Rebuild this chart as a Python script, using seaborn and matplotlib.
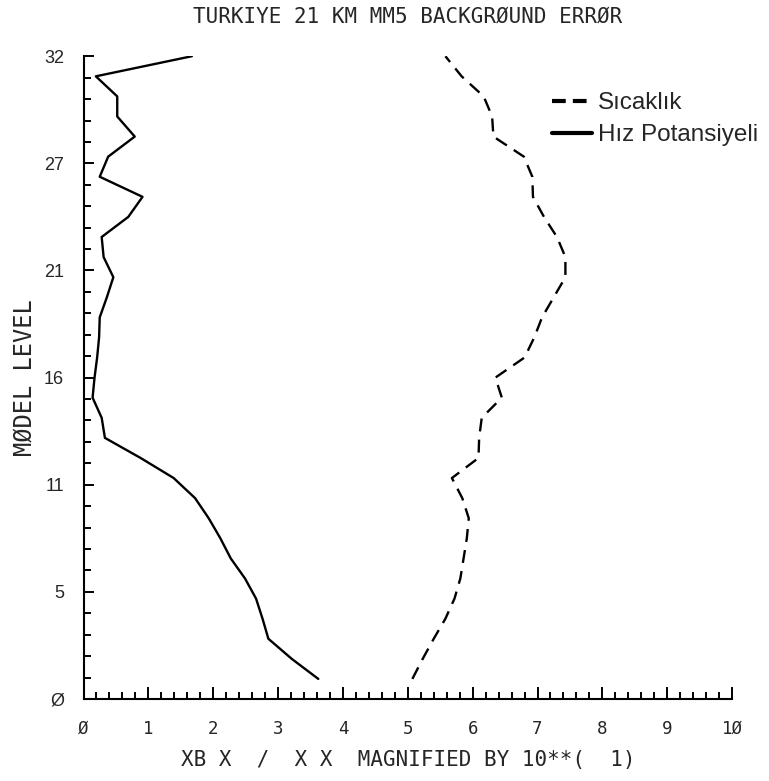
import numpy as np
import pandas as pd
import matplotlib.pyplot as plt
import seaborn as sns
from matplotlib.lines import Line2D

# model levels 1..32
levels = list(range(1, 33))

# Hiz Potansiyeli (solid)
hiz = [3.62, 3.21, 2.85, 2.76, 2.66, 2.49, 2.27, 2.11, 1.93, 1.72,
       1.39, 0.88, 0.33, 0.28, 0.14, 0.17, 0.21, 0.24, 0.25, 0.36,
       0.46, 0.31, 0.28, 0.69, 0.91, 0.25, 0.38, 0.79, 0.52, 0.52,
       0.19, 1.67]

# Sicaklik (dashed)
sicaklik = [5.07, 5.23, 5.40, 5.58, 5.72, 5.81, 5.86, 5.91, 5.94, 5.84,
            5.68, 6.09, 6.10, 6.14, 6.45, 6.35, 6.80, 6.95, 7.07, 7.25,
            7.43, 7.43, 7.30, 7.10, 6.93, 6.92, 6.79, 6.32, 6.30, 6.17,
            5.83, 5.58]

series_names = ['Sıcaklık', 'Hız Potansiyeli']
x_labels = ['Ø', '1', '2', '3', '4', '5', '6', '7', '8', '9', '1Ø']
y_labels = ['Ø', '5', '11', '16', '21', '27', '32']

df = pd.DataFrame({
    'level': levels * 2,
    'value': sicaklik + hiz,
    'seri': [series_names[0]] * len(levels) + [series_names[1]] * len(levels),
})

sns.set_style('ticks')
plt.rcParams['font.family'] = ['DejaVu Sans Mono', 'DejaVu Sans']

fig = plt.figure(figsize=(7.69, 7.81), dpi=100)
ax = fig.add_axes([0.1086, 0.105, 0.8434, 0.823])

sns.lineplot(data=df, x='value', y='level', style='seri', style_order=series_names,
             dashes={series_names[0]: (5.5, 3.5), series_names[1]: ''},
             color='black', linewidth=1.7, estimator=None, sort=False,
             orient='y', legend=False, ax=ax)

ax.set_xlim(0, 10)
ax.set_ylim(0, 32)
ax.set_xticks(np.arange(0, 11, 1))
ax.set_xticks(np.arange(0, 10.01, 0.2), minor=True)
ax.set_xticklabels(x_labels, fontsize=12.5)
ax.set_yticks(np.linspace(0, 32, 7))
ax.set_yticks(np.linspace(0, 32, 31), minor=True)
ax.set_yticklabels(y_labels, fontsize=13, family='Liberation Sans')

ax.tick_params(axis='both', which='both', direction='in', color='black', width=1.4)
ax.tick_params(axis='x', which='major', length=9, pad=15)
ax.tick_params(axis='x', which='minor', length=5)
ax.tick_params(axis='y', which='major', length=7, pad=14)
ax.tick_params(axis='y', which='minor', length=5)

sns.despine(ax=ax)
for side in ['left', 'bottom']:
    ax.spines[side].set_linewidth(1.5)
    ax.spines[side].set_color('black')

ax.set_title('TURKIYE 21 KM MM5 BACKGRØUND ERRØR', fontsize=15, pad=24)
ax.set_xlabel('XB X  /  X X  MAGNIFIED BY 10**(  1)', fontsize=15, labelpad=9)
ax.set_ylabel('MØDEL LEVEL', fontsize=17, labelpad=5)

handles = [Line2D([], [], color='black', linewidth=3, dashes=(3.3, 1.7)),
           Line2D([], [], color='black', linewidth=3)]
ax.legend(handles, series_names, loc='upper left', bbox_to_anchor=(0.688, 0.978),
          frameon=False, handlelength=1.65, handletextpad=0.25, labelspacing=0.42,
          prop={'family': 'Liberation Sans', 'size': 17.5})

fig.savefig('out.png', dpi=100)
